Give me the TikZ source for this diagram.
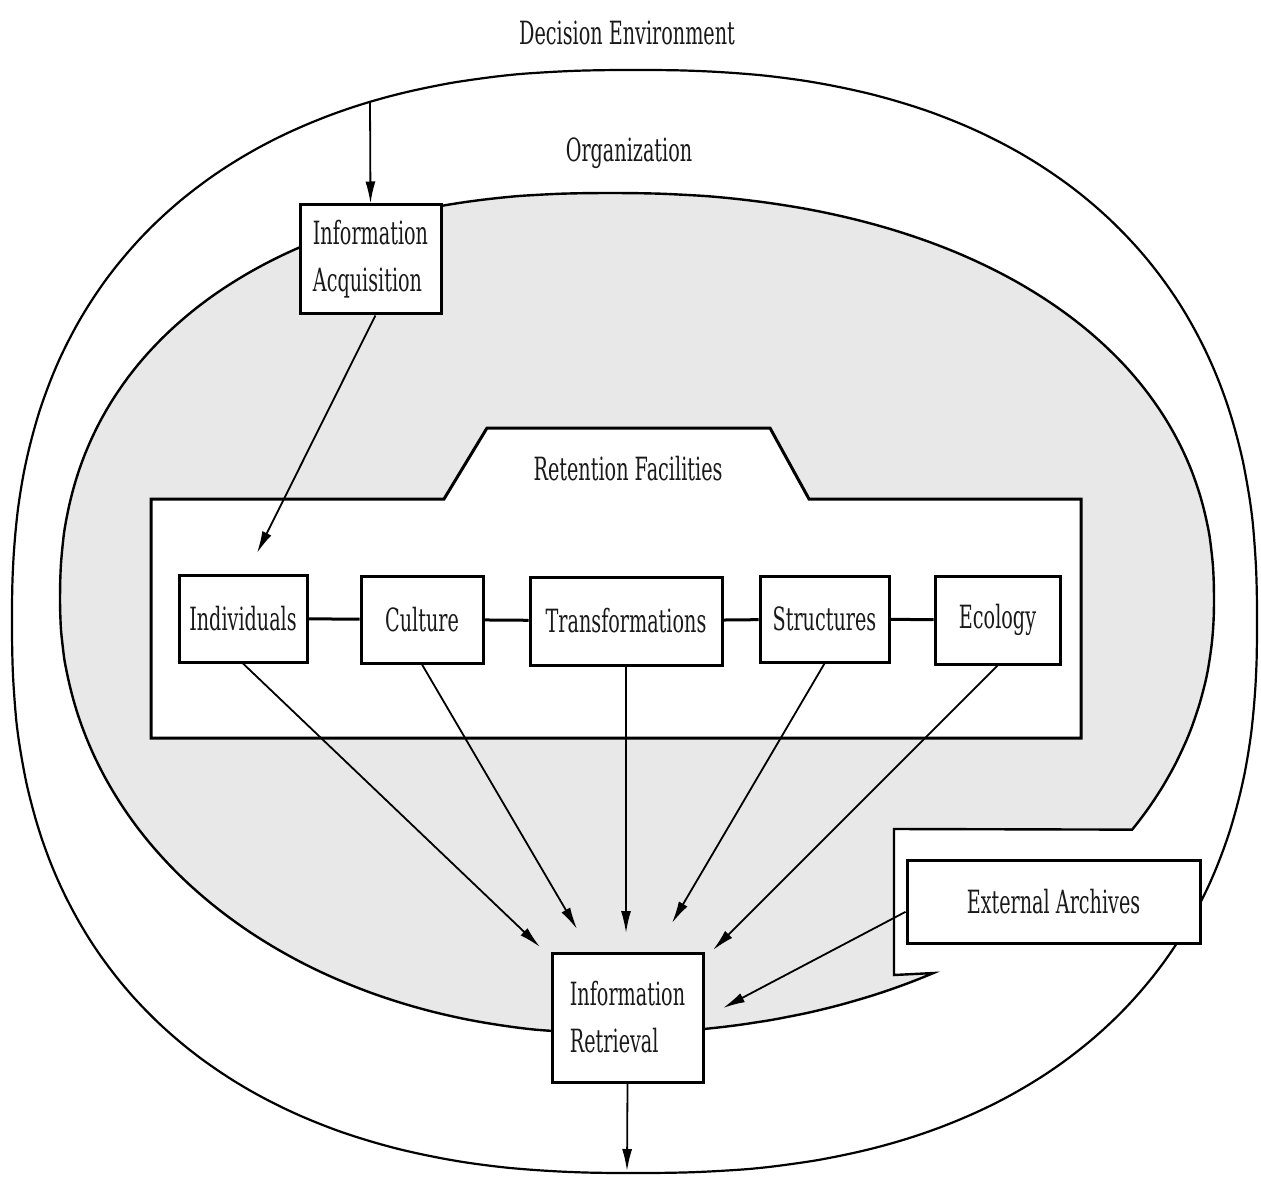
\documentclass[tikz,border=0pt]{standalone}
\usepackage{fontspec}
\setmainfont{DejaVu Serif}[FakeStretch=0.6]
\usetikzlibrary{arrows.meta}
\begin{document}
\begin{tikzpicture}[x=0.5pt,y=-0.5pt,
  txt/.style={font=\fontsize{16}{23.5}\selectfont, text=black!90},
  box/.style={draw, line width=1.5pt, fill=white, inner sep=0pt, txt},
  curve/.style={line width=1.1pt},
  arr/.style={line width=0.9pt, -{Latex[length=11pt,width=5pt]}},
  link/.style={line width=1.5pt}]
\useasboundingbox (0,0) rectangle (1261,1181);
\fill[white] (0,0) rectangle (1261,1181);

% outer: decision environment (superellipse)
\draw[curve] plot[domain=0.5:360.5, samples=181, variable=\t, smooth]
  ({634.5+622.5*sign(cos(\t))*abs(cos(\t))^0.844},
   {621.5+551.5*sign(sin(\t))*abs(sin(\t))^0.844}) -- cycle;

% organization (gray), built from four superelliptic quadrants
\filldraw[fill=black!9, line width=1.2pt, line join=miter]
  plot[domain=58.75:89.99, samples=30, variable=\u, smooth]
    ({610+604*cos(\u)^0.952},{600+433*sin(\u)^0.952})
  -- plot[domain=0.01:89.99, samples=50, variable=\u, smooth]
    ({610-550*sin(\u)^0.976},{600+433*cos(\u)^0.976})
  -- plot[domain=0.01:89.99, samples=50, variable=\u, smooth]
    ({610-550*cos(\u)^0.889},{600-407*sin(\u)^0.889})
  -- plot[domain=0.01:89.99, samples=50, variable=\u, smooth]
    ({610+604*sin(\u)^0.909},{600-407*cos(\u)^0.909})
  -- plot[domain=0.01:30.9, samples=20, variable=\u, smooth]
    ({610+604*cos(\u)^0.952},{600+433*sin(\u)^0.952})
  -- (894,829) -- (894,975) -- cycle;

% retention facilities
\draw[line width=1.5pt, fill=white, line join=miter]
 (151,499) -- (444,499) -- (487,428) -- (770,428) -- (809,499)
 -- (1081,499) -- (1081,738) -- (151,738) -- cycle;

% texts
\node[txt, anchor=base] (de) at (627,45) {Decision Environment};
\node[txt, anchor=base] (org) at (629,162) {Organization};
\node[txt, anchor=base] (rf) at (628,480) {Retention Facilities};

% boxes
\node[box, align=left, minimum width=70.5pt, minimum height=54.5pt] (acq) at (370.5,259.5) {Information\\Acquisition};
\node[box, minimum width=64pt, minimum height=43.5pt] (ind) at (243,618.5) {Individuals};
\node[box, minimum width=61pt, minimum height=43.5pt] (cul) at (422,619.5) {Culture};
\node[box, minimum width=96pt, minimum height=44pt] (tra) at (626,621) {Transformations};
\node[box, minimum width=64.5pt, minimum height=43pt] (str) at (824.5,619) {Structures};
\node[box, minimum width=62.5pt, minimum height=44pt] (eco) at (997.5,620) {Ecology};
\node[box, align=left, minimum width=75.5pt, minimum height=64.5pt] (ret) at (627.5,1017.5) {Information\\Retrieval};
\node[box, minimum width=146.5pt, minimum height=41.5pt] (ext) at (1053.5,901.5) {External Archives\hspace{7pt}};

% links between retention boxes
\draw[link] (ind) -- (cul);
\draw[link] (cul) -- (tra);
\draw[link] (tra) -- (str);
\draw[link] (str) -- (eco);

% free ends
\coordinate (src) at (370,102);
\coordinate (accEnd) at (257,553);
\coordinate (e1) at (540,947);
\coordinate (e2) at (577,929);
\coordinate (e3) at (626,933);
\coordinate (e4) at (672,923);
\coordinate (e5) at (713,950);
\coordinate (e6) at (723,1008);
\coordinate (out) at (627,1171);

% arrows
\draw[arr] (src) -- (acq.north);
\draw[arr] (acq.275) -- (accEnd);
\draw[arr] (ind.south) -- (e1);
\draw[arr] (cul.south) -- (e2);
\draw[arr] (tra.south) -- (e3);
\draw[arr] (str.south) -- (e4);
\draw[arr] (eco.south) -- (e5);
\draw[arr] (ext.184.5) -- (e6);
\draw[arr] (ret.south) -- (out);
\end{tikzpicture}
\end{document}
